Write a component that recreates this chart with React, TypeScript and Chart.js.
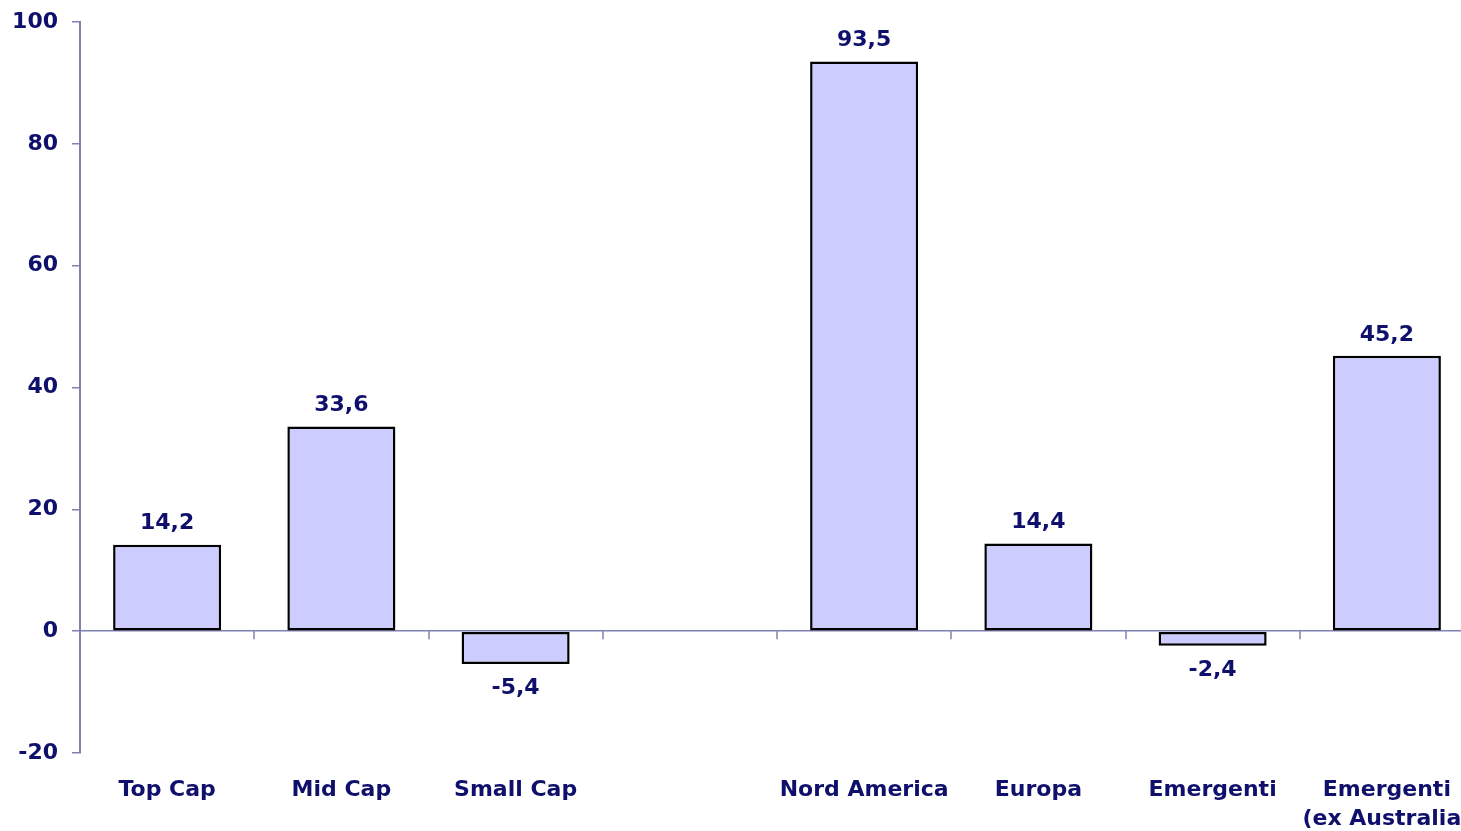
import React, { useEffect, useRef } from "react";
import { Chart, registerables } from "chart.js";

Chart.register(...registerables);

const categories: (string | string[])[] = [
  "Top Cap",
  "Mid Cap",
  "Small Cap",
  "",
  "Nord America",
  "Europa",
  "Emergenti",
  ["Emergenti", "(ex Australia)"],
];
const values: (number | null)[] = [14.2, 33.6, -5.4, null, 93.5, 14.4, -2.4, 45.2];
const yTicks = [-20, 0, 20, 40, 60, 80, 100];

const TEXT = "#0f0f6c";
const AXIS = "#8080b2";
const FONT = "'DejaVu Sans', Verdana, sans-serif";

const CANVAS_W = 1540;
const CANVAS_H = 831;

const valueLabels = {
  id: "valueLabels",
  afterDatasetsDraw(chart: any) {
    const ctx = chart.ctx;
    const meta = chart.getDatasetMeta(0);
    ctx.save();
    ctx.font = `bold 22px ${FONT}`;
    ctx.fillStyle = TEXT;
    ctx.textAlign = "center";
    ctx.textBaseline = "middle";
    meta.data.forEach((el: any, i: number) => {
      const v = values[i];
      if (v === null || v === undefined) return;
      const txt = v.toFixed(1).replace(".", ",");
      const y = v >= 0 ? el.y - 21 : el.y + 24;
      ctx.fillText(txt, el.x, y);
    });
    ctx.restore();
  },
};

const categoryTicks = {
  id: "categoryTicks",
  beforeDatasetsDraw(chart: any) {
    const ctx = chart.ctx;
    const xs = chart.scales.x;
    const ys = chart.scales.y;
    const y0 = ys.getPixelForValue(0);
    const half = (xs.getPixelForValue(1) - xs.getPixelForValue(0)) / 2;
    ctx.save();
    ctx.strokeStyle = AXIS;
    ctx.lineWidth = 1.5;
    for (let i = 1; i < categories.length; i++) {
      const x = Math.round(xs.getPixelForValue(i) - half);
      ctx.beginPath();
      ctx.moveTo(x, y0);
      ctx.lineTo(x, y0 + 8);
      ctx.stroke();
    }
    ctx.restore();
  },
};

export default function App() {
  const ref = useRef<HTMLCanvasElement | null>(null);

  useEffect(() => {
    if (!ref.current) return;
    const chart = new Chart(ref.current, {
      type: "bar",
      data: {
        labels: categories,
        datasets: [
          {
            data: values as any,
            backgroundColor: "#ccccff",
            borderColor: "#000000",
            borderWidth: 2.5,
            borderSkipped: false,
            categoryPercentage: 1,
            barPercentage: 0.62,
          },
        ],
      },
      options: {
        responsive: false,
        animation: false,
        devicePixelRatio: 1,
        layout: { padding: { left: 0, top: 22, right: CANVAS_W - 1474, bottom: 0 } },
        plugins: {
          legend: { display: false },
          tooltip: { enabled: false },
        },
        scales: {
          x: {
            offset: true,
            grid: { display: false, drawTicks: false },
            border: { display: false },
            ticks: {
              autoSkip: false,
              maxRotation: 0,
              minRotation: 0,
              padding: 23,
              color: TEXT,
              font: { family: FONT, size: 22, weight: "bold", lineHeight: 1.32 },
            },
            afterFit: (s: any) => {
              s.height = 78;
            },
          },
          y: {
            min: -20,
            max: 100,
            afterBuildTicks: (s: any) => {
              s.ticks = yTicks.map((v) => ({ value: v }));
            },
            grid: {
              color: (c: any) => (c.tick && c.tick.value === 0 ? AXIS : "transparent"),
              tickColor: AXIS,
              tickLength: 8,
              lineWidth: 1.5,
            },
            border: { display: true, color: AXIS, width: 2 },
            ticks: {
              padding: 14,
              color: TEXT,
              font: { family: FONT, size: 22, weight: "bold" },
            },
            afterFit: (s: any) => {
              s.width = 80;
              s.paddingTop = 0;
              s.paddingBottom = 0;
            },
          },
        },
      },
      plugins: [categoryTicks, valueLabels],
    });
    return () => chart.destroy();
  }, []);

  return (
    <div
      style={{
        position: "fixed",
        left: 0,
        top: 0,
        width: 1461,
        height: 831,
        overflow: "hidden",
        background: "#ffffff",
      }}
    >
      <canvas
        ref={ref}
        width={CANVAS_W}
        height={CANVAS_H}
        style={{ display: "block", width: CANVAS_W, height: CANVAS_H }}
      />
    </div>
  );
}
